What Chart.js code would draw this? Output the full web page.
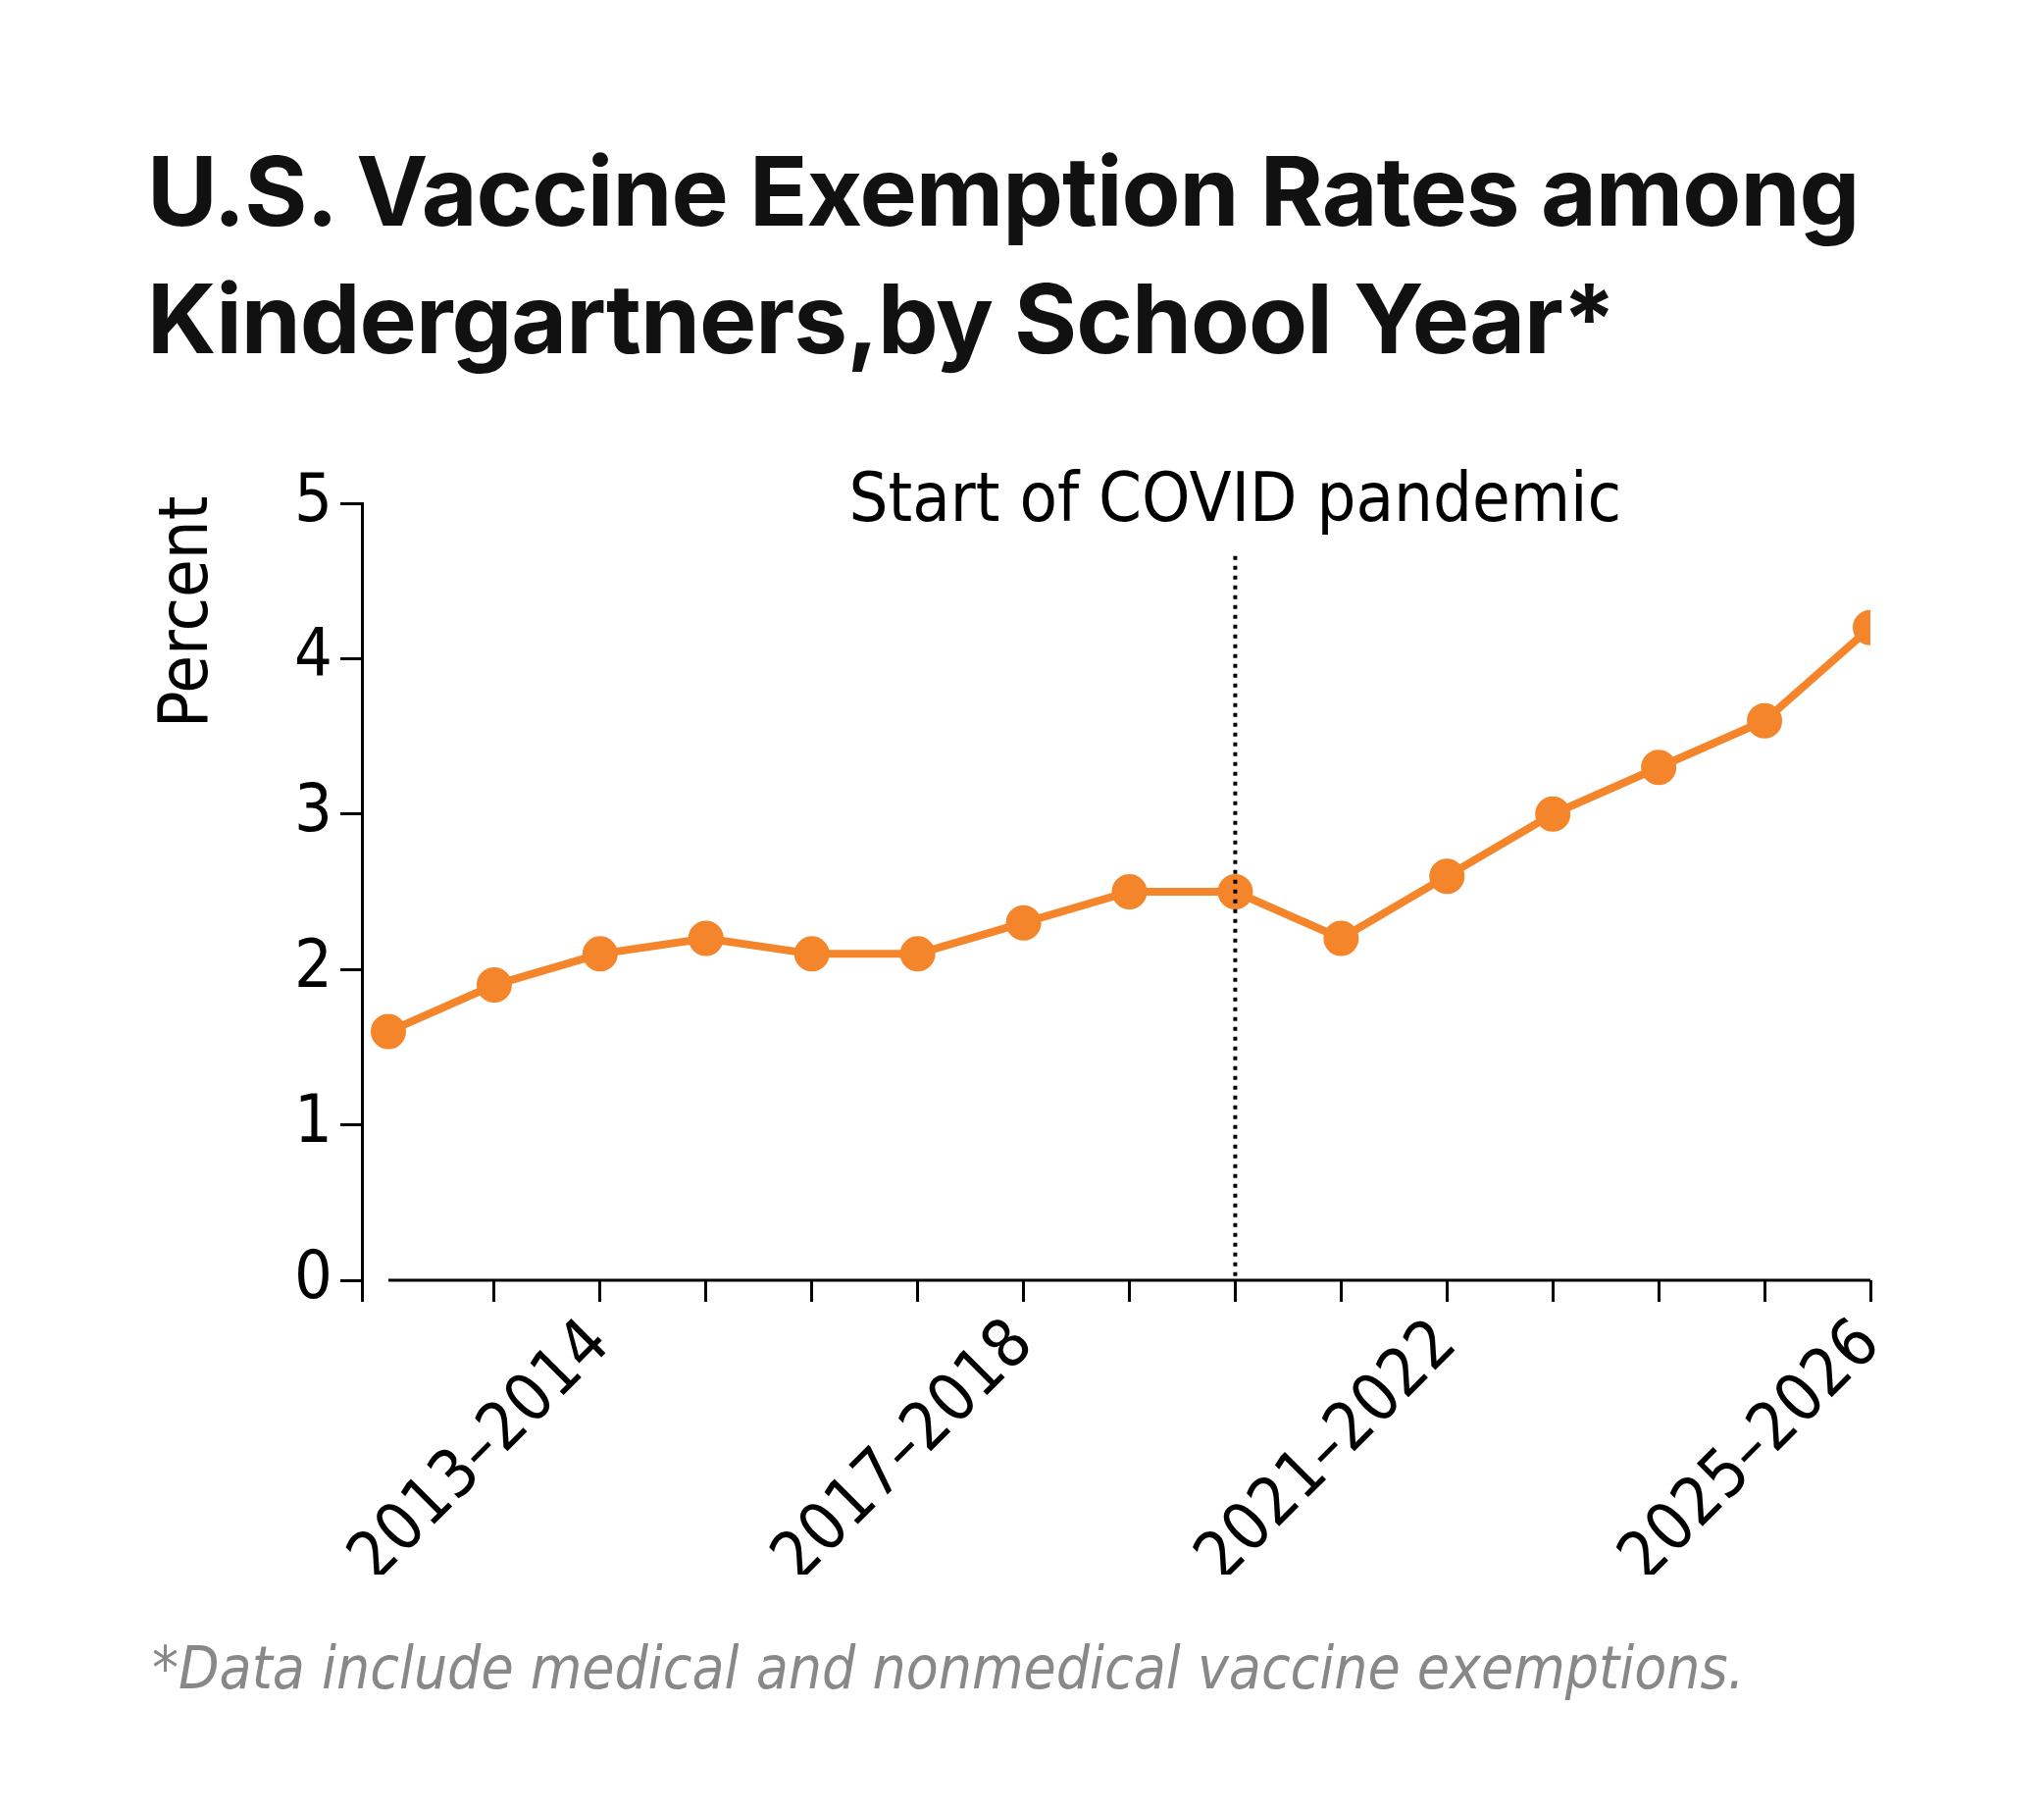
<!DOCTYPE html>
<html><head><meta charset="utf-8">
<script src="https://cdn.jsdelivr.net/npm/chart.js@4"></script>
<style>
body{margin:0;background:#fff;width:2084px;height:1845px;position:relative;overflow:hidden}
#t{position:absolute;left:150px;top:130px;font:bold 98px Inter,'Liberation Sans',sans-serif;line-height:130px;color:#111;letter-spacing:-1px}
#f{position:absolute;left:155px;top:1665px;font:italic 60px 'Liberation Sans Narrow','DejaVu Sans Condensed',sans-serif;color:#888}
#c{position:absolute;left:0;top:0}
</style></head><body>
<div id="t">U.S. Vaccine Exemption Rates among<br>Kindergartners,by School Year*</div>
<canvas id="c" width="2084" height="1845"></canvas>
<div id="f">*Data include medical and nonmedical vaccine exemptions.</div>
<script>
const schoolYears=["2011–2012","2012–2013","2013–2014","2014–2015","2015–2016","2016–2017","2017–2018","2018–2019","2019–2020","2020–2021","2021–2022","2022–2023","2023–2024","2024–2025","2025–2026"];
const exemptionRates=[1.6,1.9,2.1,2.2,2.1,2.1,2.3,2.5,2.5,2.2,2.6,3.0,3.3,3.6,4.2];
const labeledYears=["2013–2014","2017–2018","2021–2022","2025–2026"];
const covidYear="2019–2020";
const covidLabel="Start of COVID pandemic";
const narrow="'Liberation Sans Narrow','DejaVu Sans Condensed',sans-serif";
const extra={id:'extra',afterDraw(ch){
 const c=ch.ctx,x=ch.scales.x,y=ch.scales.y;
 c.save();
 c.strokeStyle='#000';c.lineWidth=3;
 c.beginPath();c.moveTo(x.getPixelForValue(0),y.getPixelForValue(0));c.lineTo(x.getPixelForValue(schoolYears.length-1),y.getPixelForValue(0));c.stroke();
 const cx=x.getPixelForValue(schoolYears.indexOf(covidYear));
 c.setLineDash([4,6]);c.lineWidth=4;
 c.beginPath();c.moveTo(cx,y.getPixelForValue(4.66));c.lineTo(cx,y.getPixelForValue(0));c.stroke();
 c.setLineDash([]);
 c.fillStyle='#000';c.font='70px '+narrow;c.textAlign='center';c.textBaseline='middle';
 c.fillText(covidLabel,cx,y.getPixelForValue(5));
 c.translate(193,y.getPixelForValue(4.3));c.rotate(-Math.PI/2);
 c.fillText('Percent',0,0);
 c.restore();
}};
new Chart(document.getElementById('c'),{
 type:'line',
 data:{datasets:[{data:exemptionRates.map((v,i)=>({x:i,y:v})),borderColor:'#f5852a',backgroundColor:'#f5852a',borderWidth:8,pointRadius:14,pointHoverRadius:14,tension:0}]},
 options:{responsive:false,animation:false,events:[],
  layout:{padding:{left:269,top:513,right:177,bottom:240}},
  plugins:{legend:{display:false},tooltip:{enabled:false}},
  scales:{
   x:{type:'linear',min:-0.25,max:schoolYears.length-1,
    afterFit(s){s.height=300},
    border:{display:false},
    grid:{drawOnChartArea:false,color:'#000',lineWidth:3,tickLength:22,tickColor:'#000'},
    ticks:{stepSize:1,autoSkip:false,maxRotation:45,minRotation:45,color:'#000',font:{size:68,family:narrow},padding:4,
     callback(v){const l=schoolYears[v];return labeledYears.includes(l)?l:'';}}},
   y:{min:0,max:5,
    afterFit(s){s.width=100},
    border:{display:true,color:'#000',width:3},
    grid:{drawOnChartArea:false,color:'#000',lineWidth:3,tickLength:22},
    ticks:{stepSize:1,color:'#000',font:{size:68,family:narrow},padding:8}}
  }},
 plugins:[extra]
});
</script></body></html>
